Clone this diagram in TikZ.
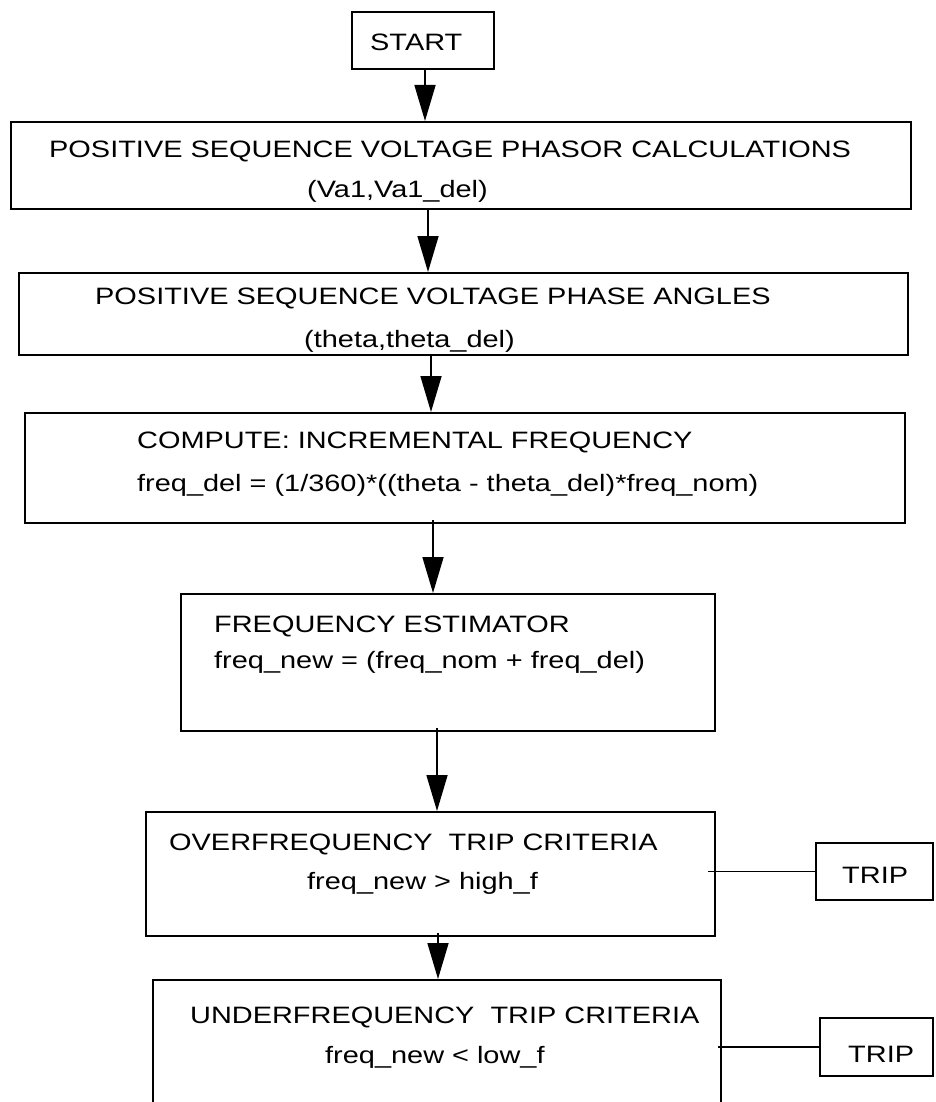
\documentclass[tikz,border=0pt]{standalone}
\usepackage{fontspec}
\setmainfont{Liberation Sans}[FakeStretch=1.22]
\usetikzlibrary{arrows.meta}
\begin{document}
\begin{tikzpicture}[x=1pt,y=-1pt,
  box/.style={draw, line width=2pt, rectangle, inner sep=0pt},
  txt/.style={anchor=base west, inner sep=0pt, font=\fontsize{23.7pt}{28pt}\selectfont},
  flow/.style={line width=1.6pt, -{Triangle[length=36pt,width=21pt]}},
  link/.style={line width=1.6pt}]
\useasboundingbox (0,0) rectangle (935,1102);
\clip (0,0) rectangle (935,1102);

% process boxes
\node[box, minimum width=142pt, minimum height=57pt]  (start) at (423,40.5) {};
\node[box, minimum width=900pt, minimum height=87pt]  (box1)  at (461,165.5) {};
\node[box, minimum width=889pt, minimum height=82pt]  (box2)  at (463.5,314) {};
\node[box, minimum width=880pt, minimum height=110pt] (box3)  at (465,468) {};
\node[box, minimum width=534pt, minimum height=137pt] (box4)  at (448,662.5) {};
\node[box, minimum width=569pt, minimum height=124pt] (box5)  at (430.5,874) {};
\node[box, minimum width=568pt, minimum height=150pt] (box6)  at (437,1055) {};
\node[box, minimum width=117pt, minimum height=57pt]  (trip1) at (874.5,871.5) {};
\node[box, minimum width=113pt, minimum height=58pt]  (trip2) at (876.5,1047) {};

% box texts
\node[txt] (startlbl) at (370,50.5) {START};
\node[txt] (t1a) at (49,158)  {POSITIVE SEQUENCE VOLTAGE PHASOR CALCULATIONS};
\node[txt] (t1b) at (307,197) {(Va1,Va1\_del)};
\node[txt] (t2a) at (95,304)  {POSITIVE SEQUENCE VOLTAGE PHASE ANGLES};
\node[txt] (t2b) at (304,347) {(theta,theta\_del)};
\node[txt] (t3a) at (137,448) {COMPUTE: INCREMENTAL FREQUENCY};
\node[txt] (t3b) at (137,491) {freq\_del = (1/360)*((theta - theta\_del)*freq\_nom)};
\node[txt] (t4a) at (214,632) {FREQUENCY ESTIMATOR};
\node[txt] (t4b) at (214,668) {freq\_new = (freq\_nom + freq\_del)};
\node[txt] (t5a) at (169,850) {OVERFREQUENCY\ \ TRIP CRITERIA};
\node[txt] (t5b) at (307,889) {freq\_new > high\_f};
\node[txt] (t6a) at (190,1023) {UNDERFREQUENCY\ \ TRIP CRITERIA};
\node[txt] (t6b) at (325,1063) {freq\_new < low\_f};
\node[txt] (trip1lbl) at (842,883)  {TRIP};
\node[txt] (trip2lbl) at (848,1062) {TRIP};

% columns of the vertical connectors
\coordinate (x0) at (425,0);
\coordinate (x1) at (428,0);
\coordinate (x2) at (431,0);
\coordinate (x3) at (433,0);
\coordinate (x4) at (437,0);
\coordinate (x5) at (438,0);

% flow arrows
\draw[flow] (start.south -| x0) -- (box1.north -| x0);
\draw[flow] (box1.south -| x1) -- (box2.north -| x1);
\draw[flow] (box2.south -| x2) -- (box3.north -| x2);
\draw[flow, shorten <=-4pt] (box3.south -| x3) -- (box4.north -| x3);
\draw[flow, shorten <=-4pt] (box4.south -| x4) -- (box5.north -| x4);
\draw[flow, shorten <=-4pt] (box5.south -| x5) -- (box6.north -| x5);

% trip links
\draw[link, shorten <=-8pt] (trip1.west -| box5.east) -- (trip1.west);
\draw[link, shorten <=-4pt] (trip2.west -| box6.east) -- (trip2.west);
\end{tikzpicture}
\end{document}
